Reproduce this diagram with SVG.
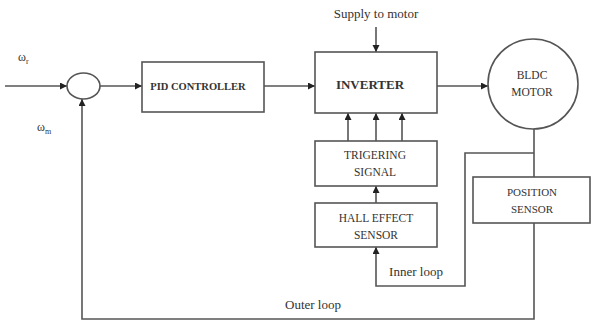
<svg xmlns="http://www.w3.org/2000/svg" width="593" height="329" viewBox="0 0 593 329">
<style>
  .box{fill:#fff;stroke:#555;stroke-width:1.6}
  .ln{fill:none;stroke:#555;stroke-width:1.6}
  .lbl{font-family:"Liberation Serif","DejaVu Serif",serif;font-size:11.5px;fill:#333;text-anchor:middle}
  .note{font-family:"Liberation Serif","DejaVu Serif",serif;font-size:13px;fill:#333;text-anchor:middle}
  .w{font-family:"Liberation Serif","DejaVu Serif",serif;font-size:12px;fill:#333}
</style>
<defs>
  <marker id="ah" markerUnits="userSpaceOnUse" markerWidth="8" markerHeight="8" refX="7" refY="3.5" orient="auto">
    <path d="M0,0 L7,3.5 L0,7 z" fill="#222"/>
  </marker>
</defs>
<rect width="593" height="329" fill="#fff"/>
<g id="connectors">
  <path class="ln" d="M5,86 H67" marker-end="url(#ah)"/>
  <path class="ln" d="M100,86 H142" marker-end="url(#ah)"/>
  <path class="ln" d="M264,86 H315" marker-end="url(#ah)"/>
  <path class="ln" d="M437,86 H488" marker-end="url(#ah)"/>
  <path class="ln" d="M376,27 V52" marker-end="url(#ah)"/>
  <path class="ln" d="M348,141 V113" marker-end="url(#ah)"/>
  <path class="ln" d="M376,141 V113" marker-end="url(#ah)"/>
  <path class="ln" d="M402,141 V113" marker-end="url(#ah)"/>
  <path class="ln" d="M376,203 V186" marker-end="url(#ah)"/>
  <path class="ln" d="M534,129 V177"/>
  <path class="ln" d="M534,153 H465 V286 H376 V247" marker-end="url(#ah)"/>
  <path class="ln" d="M534,223 V319 H82 V99" marker-end="url(#ah)"/>
</g>
<g id="sum">
  <ellipse cx="83.5" cy="86" rx="16.5" ry="13" class="box"/>
</g>
<g id="labels-in">
  <text x="18" y="61" class="w">ω<tspan style="font-size:8px" dy="3">r</tspan></text>
  <text x="37" y="131" class="w">ω<tspan style="font-size:8px" dy="3">m</tspan></text>
</g>
<g id="pid">
  <rect x="142" y="62" width="122" height="50" class="box"/>
  <text x="198" y="89.5" class="lbl" style="font-size:10.5px;font-weight:bold">PID CONTROLLER</text>
</g>
<g id="inverter">
  <rect x="315" y="52" width="122" height="61" class="box"/>
  <text x="370" y="89" class="lbl" style="font-size:13px;font-weight:bold">INVERTER</text>
</g>
<g id="supply">
  <text x="376" y="18" class="note">Supply to motor</text>
</g>
<g id="motor">
  <circle cx="533" cy="84" r="45" class="box"/>
  <text x="532" y="79" class="lbl">BLDC</text>
  <text x="532" y="96" class="lbl">MOTOR</text>
</g>
<g id="trigger">
  <rect x="315" y="141" width="122" height="45" class="box"/>
  <text x="375" y="159" class="lbl">TRIGERING</text>
  <text x="375" y="176" class="lbl">SIGNAL</text>
</g>
<g id="hall">
  <rect x="315" y="203" width="122" height="44" class="box"/>
  <text x="376" y="222" class="lbl">HALL EFFECT</text>
  <text x="376" y="239" class="lbl">SENSOR</text>
</g>
<g id="position">
  <rect x="473" y="177" width="117" height="46" class="box"/>
  <text x="532" y="196" class="lbl" style="font-size:11px">POSITION</text>
  <text x="532" y="213" class="lbl" style="font-size:11px">SENSOR</text>
</g>
<g id="loops">
  <text x="416" y="276" class="note">Inner loop</text>
  <text x="313" y="309" class="note">Outer loop</text>
</g>
</svg>
